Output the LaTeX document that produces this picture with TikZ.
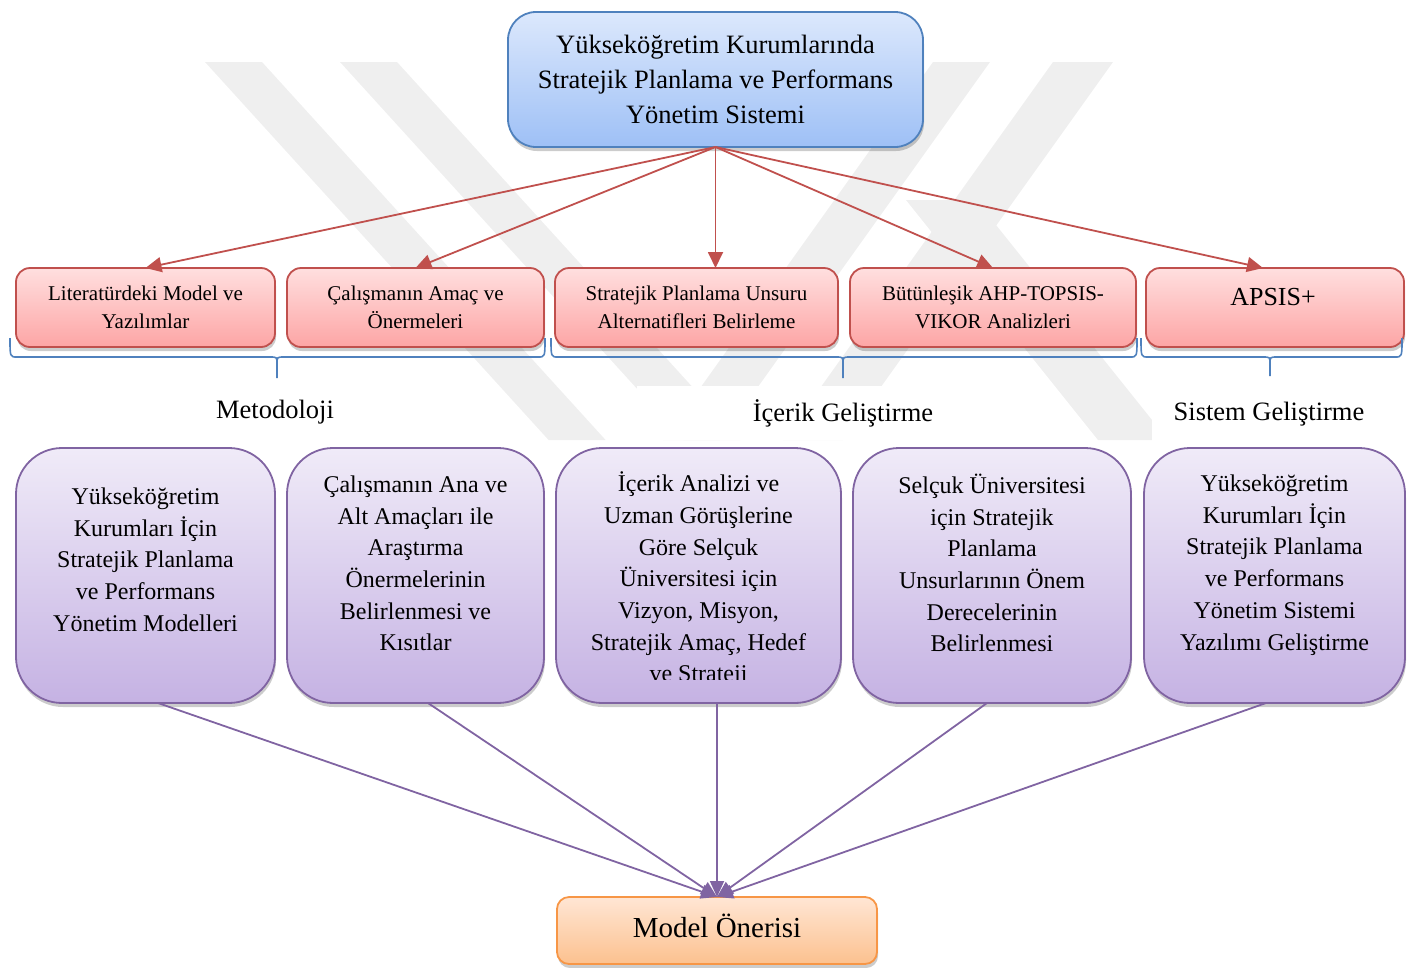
\documentclass[tikz,border=0pt]{standalone}
\usepackage{fontspec}
\setmainfont{Liberation Serif}
\usetikzlibrary{arrows.meta,calc,shadows}

\definecolor{blueline}{HTML}{4F81BD}
\definecolor{bluetop}{HTML}{DCE8FC}
\definecolor{bluebot}{HTML}{9EC0F6}
\definecolor{redline}{HTML}{C0504D}
\definecolor{redtop}{HTML}{FFDFDF}
\definecolor{redbot}{HTML}{FDA5A5}
\definecolor{purpline}{HTML}{8064A2}
\definecolor{purptop}{HTML}{F0EBF8}
\definecolor{purpbot}{HTML}{C5B2E3}
\definecolor{orline}{HTML}{F79646}
\definecolor{ortop}{HTML}{FFE6D4}
\definecolor{orbot}{HTML}{FCC18F}
\definecolor{wmgray}{HTML}{EFEFEF}

\newcommand{\setfs}[2]{\fontsize{#1}{#2}\selectfont}

\begin{document}
\begin{tikzpicture}[x=1pt,y=-1pt,
  shadowed/.style={drop shadow={shadow xshift=1pt,shadow yshift=-4pt,opacity=0.2,fill=black}},
  basebox/.style={rectangle,line width=1.8pt,inner sep=0pt,outer sep=0pt,align=center,shadowed},
  topbox/.style={basebox,rounded corners=28pt,draw=blueline,top color=bluetop,bottom color=bluebot,
    font=\setfs{26.5}{35}},
  redbox/.style={basebox,rounded corners=14pt,draw=redline,top color=redtop,bottom color=redbot,
    minimum height=79pt,font=\setfs{21}{28}},
  purpbox/.style={basebox,rounded corners=46pt,draw=purpline,top color=purptop,bottom color=purpbot,
    minimum height=255pt},
  modelbox/.style={basebox,rounded corners=12pt,draw=orline,top color=ortop,bottom color=orbot},
  ptext/.style={align=center,inner sep=0pt,font=\setfs{24}{31.7}},
  grouplabel/.style={fill=white,inner sep=0pt,minimum height=54pt,font=\setfs{26.5}{32}},
  redarrow/.style={draw=redline,line width=1.8pt,-{Triangle[length=16pt,width=15pt]}},
  purparrow/.style={draw=purpline,line width=1.8pt,-{Triangle[length=16pt,width=14pt]}},
  bracket/.style={draw=blueline,line width=1.6pt},
  wm/.style={fill=wmgray}]

\useasboundingbox (0,0) rectangle (1413,967);

% faint striped emblem in the background
\begin{scope}
  \clip (0,62) rectangle (1413,440);
  \fill[wm] (205,62) -- (262,62) -- (605.6,440) -- (548.6,440) -- cycle;
  \fill[wm] (340,62) -- (397,62) -- (740.6,440) -- (683.6,440) -- cycle;
  \fill[wm] (1053,62) -- (1113,62) -- (843,440) -- (783,440) -- cycle;
  \fill[wm] (933,62) -- (990,62) -- (720,440) -- (663,440) -- cycle;
  \fill[wm] (906,200) -- (976,200) -- (1168,440) -- (1098,440) -- cycle;
\end{scope}

% group labels on white panels
\node[grouplabel,minimum width=410pt] (lmet) at (275,412) {Metodoloji};
\node[grouplabel,minimum width=412pt] (licr) at (843,413) {İçerik Geliştirme};
\node[grouplabel,minimum width=234pt] (lsis) at (1269,414) {Sistem Geliştirme};

% top box
\node[topbox,minimum width=415pt,minimum height=135pt] (top) at (715.5,79.5)
  {Yükseköğretim Kurumlarında\\Stratejik Planlama ve Performans\\Yönetim Sistemi};

% second row
\node[redbox,minimum width=259pt] (r1) at (145.5,307.5) {Literatürdeki Model ve\\Yazılımlar};
\node[redbox,minimum width=257pt] (r2) at (415.5,307.5) {Çalışmanın Amaç ve\\Önermeleri};
\node[redbox,minimum width=283pt] (r3) at (696.5,307.5) {Stratejik Planlama Unsuru\\Alternatifleri Belirleme};
\node[redbox,minimum width=286pt] (r4) at (993,307.5) {Bütünleşik AHP-TOPSIS-\\VIKOR Analizleri};
\node[redbox,minimum width=258pt] (r5) at (1275,307.5) {};
\node[font=\setfs{26}{30},inner sep=0pt] (r5t) at (1273,297) {APSIS+};

% arrows from the top box
\draw[redarrow] (top.south) -- (r1.north);
\draw[redarrow] (top.south) -- (r2.north);
\draw[redarrow] (top.south) -- (top.south |- r3.north);
\draw[redarrow] (top.south) -- (r4.north);
\draw[redarrow] (top.south) -- ($(r5.north)+(-12,0)$);

% braces grouping the second row
\draw[bracket] (10,338) .. controls (10,357) .. (17,357) -- (270,357)
  .. controls (277,357) .. (277,364) -- (277,378)
  (277,364) .. controls (277,357) .. (284,357) -- (538,357)
  .. controls (545,357) .. (545,338);
\draw[bracket] (551,338) .. controls (551,357) .. (558,357) -- (836,357)
  .. controls (843,357) .. (843,364) -- (843,378)
  (843,364) .. controls (843,357) .. (850,357) -- (1130,357)
  .. controls (1137,357) .. (1137,338);
\draw[bracket] (1141,338) .. controls (1141,357) .. (1148,357) -- (1263,357)
  .. controls (1270,357) .. (1270,364) -- (1270,376)
  (1270,364) .. controls (1270,357) .. (1277,357) -- (1395,357)
  .. controls (1402,357) .. (1402,338);

% third row
\node[purpbox,minimum width=259pt] (p1) at (145.5,575.5) {};
\node[purpbox,minimum width=257pt] (p2) at (415.5,575.5) {};
\node[purpbox,minimum width=285pt] (p3) at (698.5,575.5) {};
\node[purpbox,minimum width=278pt] (p4) at (992,575.5) {};
\node[purpbox,minimum width=261pt] (p5) at (1274.5,575.5) {};

\node[ptext] (p1t) at (145.5,559.5)
  {Yükseköğretim\\Kurumları İçin\\Stratejik Planlama\\ve Performans\\Yönetim Modelleri};
\node[ptext] (p2t) at (415.5,563.5)
  {Çalışmanın Ana ve\\Alt Amaçları ile\\Araştırma\\Önermelerinin\\Belirlenmesi ve\\Kısıtlar};
\begin{scope}
  \clip (556,448) rectangle (841,679);
  \node[ptext] (p3t) at (698.5,579.5)
    {İçerik Analizi ve\\Uzman Görüşlerine\\Göre Selçuk\\Üniversitesi için\\Vizyon, Misyon,\\Stratejik Amaç, Hedef\\ve Strateji};
\end{scope}
\node[ptext] (p4t) at (992,563)
  {Selçuk Üniversitesi\\için Stratejik\\Planlama\\Unsurlarının Önem\\Derecelerinin\\Belirlenmesi};
\node[ptext] (p5t) at (1274.5,565)
  {Yükseköğretim\\Kurumları İçin\\Stratejik Planlama\\ve Performans\\Yönetim Sistemi\\Yazılımı Geliştirme};

% result box
\node[modelbox,minimum width=320pt,minimum height=67pt] (m) at (717,930.5) {};
\node[font=\setfs{29}{35},inner sep=0pt] (mt) at (717,926) {Model Önerisi};

% arrows into the result box
\draw[purparrow] ($(p1.south)+(12.5,0)$) -- (m.north);
\draw[purparrow] ($(p2.south)+(12.5,0)$) -- (m.north);
\draw[purparrow] (p3.south -| m.north) -- (m.north);
\draw[purparrow] ($(p4.south)+(-5,0)$) -- (m.north);
\draw[purparrow] ($(p5.south)+(-8.5,0)$) -- (m.north);

\end{tikzpicture}
\end{document}
